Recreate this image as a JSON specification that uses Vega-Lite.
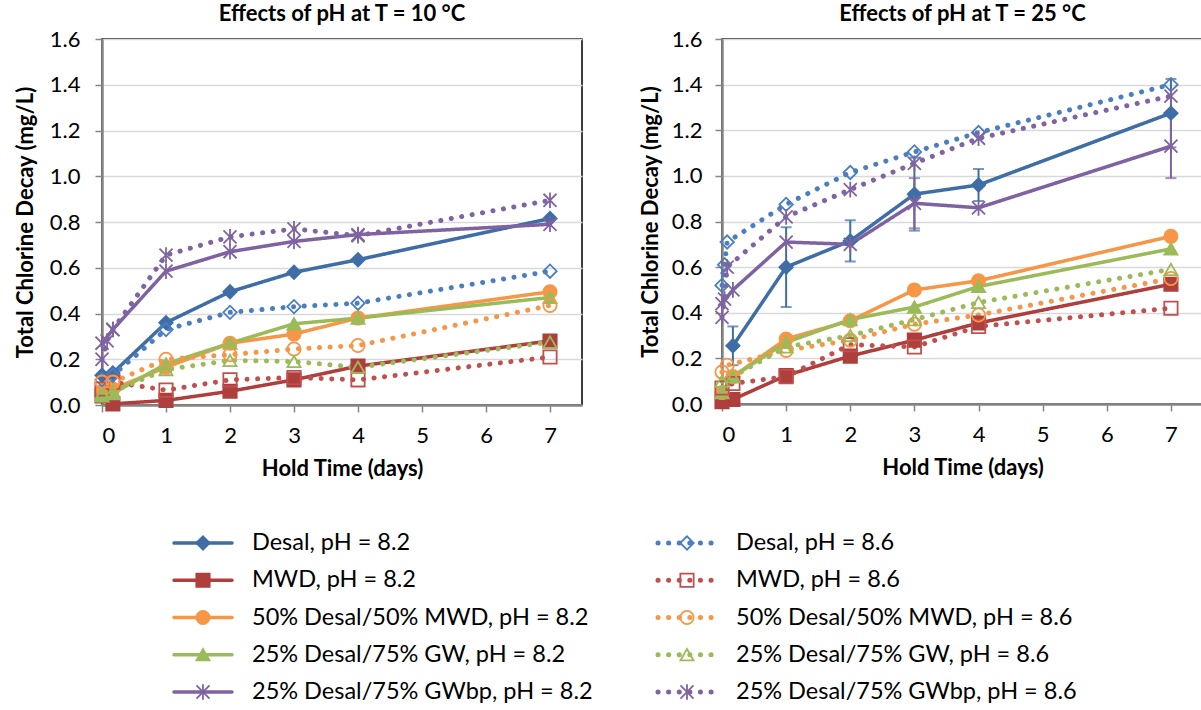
{
  "$schema": "https://vega.github.io/schema/vega-lite/v6.json",
  "background": "white",
  "padding": {"left": 13, "top": 2, "right": 0, "bottom": 0},
  "config": {
    "font": "Lato",
    "view": {"stroke": "black", "strokeWidth": 1.5},
    "axis": {
      "labelFont": "Lato", "labelFontSize": 22, "labelColor": "black",
      "titleFont": "Lato", "titleFontSize": 22, "titleFontWeight": "bold", "titleColor": "black",
      "domainColor": "#868686", "domainWidth": 2.5,
      "tickColor": "#868686", "tickWidth": 1.5, "tickSize": 7,
      "gridColor": "#D9D9D9", "gridWidth": 1.5
    },
    "title": {"font": "Lato", "fontSize": 22, "fontWeight": "bold", "color": "black", "anchor": "middle", "offset": 2},
    "concat": {"spacing": 50}
  },
  "datasets": {
    "pts": [
      {"panel": "10", "s": "Desal, pH = 8.2", "w": "Desal", "ph": "8.2", "day": 0, "v": 0.13},
      {"panel": "10", "s": "Desal, pH = 8.2", "w": "Desal", "ph": "8.2", "day": 0.17, "v": 0.14},
      {"panel": "10", "s": "Desal, pH = 8.2", "w": "Desal", "ph": "8.2", "day": 1, "v": 0.36},
      {"panel": "10", "s": "Desal, pH = 8.2", "w": "Desal", "ph": "8.2", "day": 2, "v": 0.495},
      {"panel": "10", "s": "Desal, pH = 8.2", "w": "Desal", "ph": "8.2", "day": 3, "v": 0.58},
      {"panel": "10", "s": "Desal, pH = 8.2", "w": "Desal", "ph": "8.2", "day": 4, "v": 0.635},
      {"panel": "10", "s": "Desal, pH = 8.2", "w": "Desal", "ph": "8.2", "day": 7, "v": 0.815},
      {"panel": "10", "s": "MWD, pH = 8.2", "w": "MWD", "ph": "8.2", "day": 0, "v": 0.04},
      {"panel": "10", "s": "MWD, pH = 8.2", "w": "MWD", "ph": "8.2", "day": 0.17, "v": 0.005},
      {"panel": "10", "s": "MWD, pH = 8.2", "w": "MWD", "ph": "8.2", "day": 1, "v": 0.02},
      {"panel": "10", "s": "MWD, pH = 8.2", "w": "MWD", "ph": "8.2", "day": 2, "v": 0.06},
      {"panel": "10", "s": "MWD, pH = 8.2", "w": "MWD", "ph": "8.2", "day": 3, "v": 0.11},
      {"panel": "10", "s": "MWD, pH = 8.2", "w": "MWD", "ph": "8.2", "day": 4, "v": 0.17},
      {"panel": "10", "s": "MWD, pH = 8.2", "w": "MWD", "ph": "8.2", "day": 7, "v": 0.28},
      {"panel": "10", "s": "50% Desal/50% MWD, pH = 8.2", "w": "50/50", "ph": "8.2", "day": 0, "v": 0.06},
      {"panel": "10", "s": "50% Desal/50% MWD, pH = 8.2", "w": "50/50", "ph": "8.2", "day": 0.17, "v": 0.07},
      {"panel": "10", "s": "50% Desal/50% MWD, pH = 8.2", "w": "50/50", "ph": "8.2", "day": 1, "v": 0.165},
      {"panel": "10", "s": "50% Desal/50% MWD, pH = 8.2", "w": "50/50", "ph": "8.2", "day": 2, "v": 0.27},
      {"panel": "10", "s": "50% Desal/50% MWD, pH = 8.2", "w": "50/50", "ph": "8.2", "day": 3, "v": 0.31},
      {"panel": "10", "s": "50% Desal/50% MWD, pH = 8.2", "w": "50/50", "ph": "8.2", "day": 4, "v": 0.38},
      {"panel": "10", "s": "50% Desal/50% MWD, pH = 8.2", "w": "50/50", "ph": "8.2", "day": 7, "v": 0.495},
      {"panel": "10", "s": "25% Desal/75% GW, pH = 8.2", "w": "GW", "ph": "8.2", "day": 0, "v": 0.04},
      {"panel": "10", "s": "25% Desal/75% GW, pH = 8.2", "w": "GW", "ph": "8.2", "day": 0.17, "v": 0.05},
      {"panel": "10", "s": "25% Desal/75% GW, pH = 8.2", "w": "GW", "ph": "8.2", "day": 1, "v": 0.18},
      {"panel": "10", "s": "25% Desal/75% GW, pH = 8.2", "w": "GW", "ph": "8.2", "day": 2, "v": 0.27},
      {"panel": "10", "s": "25% Desal/75% GW, pH = 8.2", "w": "GW", "ph": "8.2", "day": 3, "v": 0.355},
      {"panel": "10", "s": "25% Desal/75% GW, pH = 8.2", "w": "GW", "ph": "8.2", "day": 4, "v": 0.38},
      {"panel": "10", "s": "25% Desal/75% GW, pH = 8.2", "w": "GW", "ph": "8.2", "day": 7, "v": 0.47},
      {"panel": "10", "s": "25% Desal/75% GWbp, pH = 8.2", "w": "GWbp", "ph": "8.2", "day": 0, "v": 0.27},
      {"panel": "10", "s": "25% Desal/75% GWbp, pH = 8.2", "w": "GWbp", "ph": "8.2", "day": 0.17, "v": 0.33},
      {"panel": "10", "s": "25% Desal/75% GWbp, pH = 8.2", "w": "GWbp", "ph": "8.2", "day": 1, "v": 0.585},
      {"panel": "10", "s": "25% Desal/75% GWbp, pH = 8.2", "w": "GWbp", "ph": "8.2", "day": 2, "v": 0.67},
      {"panel": "10", "s": "25% Desal/75% GWbp, pH = 8.2", "w": "GWbp", "ph": "8.2", "day": 3, "v": 0.715},
      {"panel": "10", "s": "25% Desal/75% GWbp, pH = 8.2", "w": "GWbp", "ph": "8.2", "day": 4, "v": 0.745},
      {"panel": "10", "s": "25% Desal/75% GWbp, pH = 8.2", "w": "GWbp", "ph": "8.2", "day": 7, "v": 0.79},
      {"panel": "10", "s": "Desal, pH = 8.6", "w": "Desal", "ph": "8.6", "day": 0, "v": 0.11},
      {"panel": "10", "s": "Desal, pH = 8.6", "w": "Desal", "ph": "8.6", "day": 0.17, "v": 0.13},
      {"panel": "10", "s": "Desal, pH = 8.6", "w": "Desal", "ph": "8.6", "day": 1, "v": 0.33},
      {"panel": "10", "s": "Desal, pH = 8.6", "w": "Desal", "ph": "8.6", "day": 2, "v": 0.405},
      {"panel": "10", "s": "Desal, pH = 8.6", "w": "Desal", "ph": "8.6", "day": 3, "v": 0.43},
      {"panel": "10", "s": "Desal, pH = 8.6", "w": "Desal", "ph": "8.6", "day": 4, "v": 0.445},
      {"panel": "10", "s": "Desal, pH = 8.6", "w": "Desal", "ph": "8.6", "day": 7, "v": 0.585},
      {"panel": "10", "s": "MWD, pH = 8.6", "w": "MWD", "ph": "8.6", "day": 0, "v": 0.07},
      {"panel": "10", "s": "MWD, pH = 8.6", "w": "MWD", "ph": "8.6", "day": 0.17, "v": 0.1},
      {"panel": "10", "s": "MWD, pH = 8.6", "w": "MWD", "ph": "8.6", "day": 1, "v": 0.065},
      {"panel": "10", "s": "MWD, pH = 8.6", "w": "MWD", "ph": "8.6", "day": 2, "v": 0.11},
      {"panel": "10", "s": "MWD, pH = 8.6", "w": "MWD", "ph": "8.6", "day": 3, "v": 0.12},
      {"panel": "10", "s": "MWD, pH = 8.6", "w": "MWD", "ph": "8.6", "day": 4, "v": 0.11},
      {"panel": "10", "s": "MWD, pH = 8.6", "w": "MWD", "ph": "8.6", "day": 7, "v": 0.21},
      {"panel": "10", "s": "50% Desal/50% MWD, pH = 8.6", "w": "50/50", "ph": "8.6", "day": 0, "v": 0.1},
      {"panel": "10", "s": "50% Desal/50% MWD, pH = 8.6", "w": "50/50", "ph": "8.6", "day": 0.17, "v": 0.1},
      {"panel": "10", "s": "50% Desal/50% MWD, pH = 8.6", "w": "50/50", "ph": "8.6", "day": 1, "v": 0.2},
      {"panel": "10", "s": "50% Desal/50% MWD, pH = 8.6", "w": "50/50", "ph": "8.6", "day": 2, "v": 0.22},
      {"panel": "10", "s": "50% Desal/50% MWD, pH = 8.6", "w": "50/50", "ph": "8.6", "day": 3, "v": 0.245},
      {"panel": "10", "s": "50% Desal/50% MWD, pH = 8.6", "w": "50/50", "ph": "8.6", "day": 4, "v": 0.26},
      {"panel": "10", "s": "50% Desal/50% MWD, pH = 8.6", "w": "50/50", "ph": "8.6", "day": 7, "v": 0.435},
      {"panel": "10", "s": "25% Desal/75% GW, pH = 8.6", "w": "GW", "ph": "8.6", "day": 0, "v": 0.05},
      {"panel": "10", "s": "25% Desal/75% GW, pH = 8.6", "w": "GW", "ph": "8.6", "day": 0.17, "v": 0.06},
      {"panel": "10", "s": "25% Desal/75% GW, pH = 8.6", "w": "GW", "ph": "8.6", "day": 1, "v": 0.155},
      {"panel": "10", "s": "25% Desal/75% GW, pH = 8.6", "w": "GW", "ph": "8.6", "day": 2, "v": 0.195},
      {"panel": "10", "s": "25% Desal/75% GW, pH = 8.6", "w": "GW", "ph": "8.6", "day": 3, "v": 0.19},
      {"panel": "10", "s": "25% Desal/75% GW, pH = 8.6", "w": "GW", "ph": "8.6", "day": 4, "v": 0.165},
      {"panel": "10", "s": "25% Desal/75% GW, pH = 8.6", "w": "GW", "ph": "8.6", "day": 7, "v": 0.275},
      {"panel": "10", "s": "25% Desal/75% GWbp, pH = 8.6", "w": "GWbp", "ph": "8.6", "day": 0, "v": 0.2},
      {"panel": "10", "s": "25% Desal/75% GWbp, pH = 8.6", "w": "GWbp", "ph": "8.6", "day": 0.08, "v": 0.28},
      {"panel": "10", "s": "25% Desal/75% GWbp, pH = 8.6", "w": "GWbp", "ph": "8.6", "day": 0.17, "v": 0.33},
      {"panel": "10", "s": "25% Desal/75% GWbp, pH = 8.6", "w": "GWbp", "ph": "8.6", "day": 1, "v": 0.655},
      {"panel": "10", "s": "25% Desal/75% GWbp, pH = 8.6", "w": "GWbp", "ph": "8.6", "day": 2, "v": 0.735},
      {"panel": "10", "s": "25% Desal/75% GWbp, pH = 8.6", "w": "GWbp", "ph": "8.6", "day": 3, "v": 0.77},
      {"panel": "10", "s": "25% Desal/75% GWbp, pH = 8.6", "w": "GWbp", "ph": "8.6", "day": 4, "v": 0.74},
      {"panel": "10", "s": "25% Desal/75% GWbp, pH = 8.6", "w": "GWbp", "ph": "8.6", "day": 7, "v": 0.895},

      {"panel": "25", "s": "Desal, pH = 8.2", "w": "Desal", "ph": "8.2", "day": 0.17, "v": 0.255, "lo": 0.17, "hi": 0.34},
      {"panel": "25", "s": "Desal, pH = 8.2", "w": "Desal", "ph": "8.2", "day": 1, "v": 0.6, "lo": 0.425, "hi": 0.775},
      {"panel": "25", "s": "Desal, pH = 8.2", "w": "Desal", "ph": "8.2", "day": 2, "v": 0.715, "lo": 0.625, "hi": 0.805},
      {"panel": "25", "s": "Desal, pH = 8.2", "w": "Desal", "ph": "8.2", "day": 3, "v": 0.92, "lo": 0.76, "hi": 1.08},
      {"panel": "25", "s": "Desal, pH = 8.2", "w": "Desal", "ph": "8.2", "day": 4, "v": 0.96, "lo": 0.89, "hi": 1.03},
      {"panel": "25", "s": "Desal, pH = 8.2", "w": "Desal", "ph": "8.2", "day": 7, "v": 1.275, "lo": 1.125, "hi": 1.425},
      {"panel": "25", "s": "MWD, pH = 8.2", "w": "MWD", "ph": "8.2", "day": 0, "v": 0.01},
      {"panel": "25", "s": "MWD, pH = 8.2", "w": "MWD", "ph": "8.2", "day": 0.17, "v": 0.02},
      {"panel": "25", "s": "MWD, pH = 8.2", "w": "MWD", "ph": "8.2", "day": 1, "v": 0.125},
      {"panel": "25", "s": "MWD, pH = 8.2", "w": "MWD", "ph": "8.2", "day": 2, "v": 0.21},
      {"panel": "25", "s": "MWD, pH = 8.2", "w": "MWD", "ph": "8.2", "day": 3, "v": 0.28},
      {"panel": "25", "s": "MWD, pH = 8.2", "w": "MWD", "ph": "8.2", "day": 4, "v": 0.355},
      {"panel": "25", "s": "MWD, pH = 8.2", "w": "MWD", "ph": "8.2", "day": 7, "v": 0.525},
      {"panel": "25", "s": "50% Desal/50% MWD, pH = 8.2", "w": "50/50", "ph": "8.2", "day": 0, "v": 0.05},
      {"panel": "25", "s": "50% Desal/50% MWD, pH = 8.2", "w": "50/50", "ph": "8.2", "day": 0.17, "v": 0.12},
      {"panel": "25", "s": "50% Desal/50% MWD, pH = 8.2", "w": "50/50", "ph": "8.2", "day": 1, "v": 0.285},
      {"panel": "25", "s": "50% Desal/50% MWD, pH = 8.2", "w": "50/50", "ph": "8.2", "day": 2, "v": 0.365},
      {"panel": "25", "s": "50% Desal/50% MWD, pH = 8.2", "w": "50/50", "ph": "8.2", "day": 3, "v": 0.5},
      {"panel": "25", "s": "50% Desal/50% MWD, pH = 8.2", "w": "50/50", "ph": "8.2", "day": 4, "v": 0.54},
      {"panel": "25", "s": "50% Desal/50% MWD, pH = 8.2", "w": "50/50", "ph": "8.2", "day": 7, "v": 0.735},
      {"panel": "25", "s": "25% Desal/75% GW, pH = 8.2", "w": "GW", "ph": "8.2", "day": 0, "v": 0.05},
      {"panel": "25", "s": "25% Desal/75% GW, pH = 8.2", "w": "GW", "ph": "8.2", "day": 0.17, "v": 0.12},
      {"panel": "25", "s": "25% Desal/75% GW, pH = 8.2", "w": "GW", "ph": "8.2", "day": 1, "v": 0.27},
      {"panel": "25", "s": "25% Desal/75% GW, pH = 8.2", "w": "GW", "ph": "8.2", "day": 2, "v": 0.37},
      {"panel": "25", "s": "25% Desal/75% GW, pH = 8.2", "w": "GW", "ph": "8.2", "day": 3, "v": 0.425},
      {"panel": "25", "s": "25% Desal/75% GW, pH = 8.2", "w": "GW", "ph": "8.2", "day": 4, "v": 0.515},
      {"panel": "25", "s": "25% Desal/75% GW, pH = 8.2", "w": "GW", "ph": "8.2", "day": 7, "v": 0.68},
      {"panel": "25", "s": "25% Desal/75% GWbp, pH = 8.2", "w": "GWbp", "ph": "8.2", "day": 0, "v": 0.44},
      {"panel": "25", "s": "25% Desal/75% GWbp, pH = 8.2", "w": "GWbp", "ph": "8.2", "day": 0.17, "v": 0.5},
      {"panel": "25", "s": "25% Desal/75% GWbp, pH = 8.2", "w": "GWbp", "ph": "8.2", "day": 1, "v": 0.71},
      {"panel": "25", "s": "25% Desal/75% GWbp, pH = 8.2", "w": "GWbp", "ph": "8.2", "day": 2, "v": 0.7},
      {"panel": "25", "s": "25% Desal/75% GWbp, pH = 8.2", "w": "GWbp", "ph": "8.2", "day": 3, "v": 0.88, "lo": 0.77, "hi": 0.99},
      {"panel": "25", "s": "25% Desal/75% GWbp, pH = 8.2", "w": "GWbp", "ph": "8.2", "day": 4, "v": 0.86},
      {"panel": "25", "s": "25% Desal/75% GWbp, pH = 8.2", "w": "GWbp", "ph": "8.2", "day": 7, "v": 1.13, "lo": 0.99, "hi": 1.27},
      {"panel": "25", "s": "Desal, pH = 8.6", "w": "Desal", "ph": "8.6", "day": 0, "v": 0.52},
      {"panel": "25", "s": "Desal, pH = 8.6", "w": "Desal", "ph": "8.6", "day": 0.04, "v": 0.61},
      {"panel": "25", "s": "Desal, pH = 8.6", "w": "Desal", "ph": "8.6", "day": 0.08, "v": 0.71},
      {"panel": "25", "s": "Desal, pH = 8.6", "w": "Desal", "ph": "8.6", "day": 1, "v": 0.875},
      {"panel": "25", "s": "Desal, pH = 8.6", "w": "Desal", "ph": "8.6", "day": 2, "v": 1.015},
      {"panel": "25", "s": "Desal, pH = 8.6", "w": "Desal", "ph": "8.6", "day": 3, "v": 1.105},
      {"panel": "25", "s": "Desal, pH = 8.6", "w": "Desal", "ph": "8.6", "day": 4, "v": 1.19},
      {"panel": "25", "s": "Desal, pH = 8.6", "w": "Desal", "ph": "8.6", "day": 7, "v": 1.4},
      {"panel": "25", "s": "MWD, pH = 8.6", "w": "MWD", "ph": "8.6", "day": 0, "v": 0.07},
      {"panel": "25", "s": "MWD, pH = 8.6", "w": "MWD", "ph": "8.6", "day": 0.17, "v": 0.09},
      {"panel": "25", "s": "MWD, pH = 8.6", "w": "MWD", "ph": "8.6", "day": 1, "v": 0.12},
      {"panel": "25", "s": "MWD, pH = 8.6", "w": "MWD", "ph": "8.6", "day": 2, "v": 0.26},
      {"panel": "25", "s": "MWD, pH = 8.6", "w": "MWD", "ph": "8.6", "day": 3, "v": 0.25},
      {"panel": "25", "s": "MWD, pH = 8.6", "w": "MWD", "ph": "8.6", "day": 4, "v": 0.34},
      {"panel": "25", "s": "MWD, pH = 8.6", "w": "MWD", "ph": "8.6", "day": 7, "v": 0.42},
      {"panel": "25", "s": "50% Desal/50% MWD, pH = 8.6", "w": "50/50", "ph": "8.6", "day": 0, "v": 0.14},
      {"panel": "25", "s": "50% Desal/50% MWD, pH = 8.6", "w": "50/50", "ph": "8.6", "day": 0.08, "v": 0.17},
      {"panel": "25", "s": "50% Desal/50% MWD, pH = 8.6", "w": "50/50", "ph": "8.6", "day": 1, "v": 0.235},
      {"panel": "25", "s": "50% Desal/50% MWD, pH = 8.6", "w": "50/50", "ph": "8.6", "day": 2, "v": 0.28},
      {"panel": "25", "s": "50% Desal/50% MWD, pH = 8.6", "w": "50/50", "ph": "8.6", "day": 3, "v": 0.35},
      {"panel": "25", "s": "50% Desal/50% MWD, pH = 8.6", "w": "50/50", "ph": "8.6", "day": 4, "v": 0.39},
      {"panel": "25", "s": "50% Desal/50% MWD, pH = 8.6", "w": "50/50", "ph": "8.6", "day": 7, "v": 0.55},
      {"panel": "25", "s": "25% Desal/75% GW, pH = 8.6", "w": "GW", "ph": "8.6", "day": 0, "v": 0.1},
      {"panel": "25", "s": "25% Desal/75% GW, pH = 8.6", "w": "GW", "ph": "8.6", "day": 0.17, "v": 0.12},
      {"panel": "25", "s": "25% Desal/75% GW, pH = 8.6", "w": "GW", "ph": "8.6", "day": 1, "v": 0.25},
      {"panel": "25", "s": "25% Desal/75% GW, pH = 8.6", "w": "GW", "ph": "8.6", "day": 2, "v": 0.3},
      {"panel": "25", "s": "25% Desal/75% GW, pH = 8.6", "w": "GW", "ph": "8.6", "day": 3, "v": 0.37},
      {"panel": "25", "s": "25% Desal/75% GW, pH = 8.6", "w": "GW", "ph": "8.6", "day": 4, "v": 0.445},
      {"panel": "25", "s": "25% Desal/75% GW, pH = 8.6", "w": "GW", "ph": "8.6", "day": 7, "v": 0.59},
      {"panel": "25", "s": "25% Desal/75% GWbp, pH = 8.6", "w": "GWbp", "ph": "8.6", "day": 0, "v": 0.38},
      {"panel": "25", "s": "25% Desal/75% GWbp, pH = 8.6", "w": "GWbp", "ph": "8.6", "day": 0.04, "v": 0.46},
      {"panel": "25", "s": "25% Desal/75% GWbp, pH = 8.6", "w": "GWbp", "ph": "8.6", "day": 0.08, "v": 0.6},
      {"panel": "25", "s": "25% Desal/75% GWbp, pH = 8.6", "w": "GWbp", "ph": "8.6", "day": 1, "v": 0.82},
      {"panel": "25", "s": "25% Desal/75% GWbp, pH = 8.6", "w": "GWbp", "ph": "8.6", "day": 2, "v": 0.94},
      {"panel": "25", "s": "25% Desal/75% GWbp, pH = 8.6", "w": "GWbp", "ph": "8.6", "day": 3, "v": 1.055},
      {"panel": "25", "s": "25% Desal/75% GWbp, pH = 8.6", "w": "GWbp", "ph": "8.6", "day": 4, "v": 1.165},
      {"panel": "25", "s": "25% Desal/75% GWbp, pH = 8.6", "w": "GWbp", "ph": "8.6", "day": 7, "v": 1.35}
    ],
    "leg": [
      {"s": "Desal, pH = 8.2", "w": "Desal", "ph": "8.2"},
      {"s": "MWD, pH = 8.2", "w": "MWD", "ph": "8.2"},
      {"s": "50% Desal/50% MWD, pH = 8.2", "w": "50/50", "ph": "8.2"},
      {"s": "25% Desal/75% GW, pH = 8.2", "w": "GW", "ph": "8.2"},
      {"s": "25% Desal/75% GWbp, pH = 8.2", "w": "GWbp", "ph": "8.2"},
      {"s": "Desal, pH = 8.6", "w": "Desal", "ph": "8.6"},
      {"s": "MWD, pH = 8.6", "w": "MWD", "ph": "8.6"},
      {"s": "50% Desal/50% MWD, pH = 8.6", "w": "50/50", "ph": "8.6"},
      {"s": "25% Desal/75% GW, pH = 8.6", "w": "GW", "ph": "8.6"},
      {"s": "25% Desal/75% GWbp, pH = 8.6", "w": "GWbp", "ph": "8.6"}
    ]
  },
  "vconcat": [
    {
      "spacing": 55,
      "hconcat": [
        {
          "title": "Effects of pH at T = 10 °C",
          "width": 480, "height": 366,
          "data": {"name": "pts"},
          "transform": [{"filter": "datum.panel == '10'"}],
          "encoding": {
            "x": {"field": "day", "type": "quantitative", "scale": {"domain": [0, 7.5], "nice": false},
                  "axis": {"values": [0,1,2,3,4,5,6,7], "grid": false, "title": "Hold Time (days)", "labelPadding": 13, "titlePadding": 12}},
            "y": {"field": "v", "type": "quantitative", "scale": {"domain": [0, 1.6], "nice": false},
                  "axis": {"values": [0,0.2,0.4,0.6,0.8,1,1.2,1.4,1.6], "format": ".1f", "grid": true, "title": "Total Chlorine Decay (mg/L)", "labelPadding": 15, "titlePadding": 12}}
          },
          "layer": [
            {"mark": {"type": "line", "strokeCap": "round", "strokeJoin": "round"},
             "encoding": {
               "color": {"field": "s", "type": "nominal", "legend": null, "scale": {"domain": ["Desal, pH = 8.2","MWD, pH = 8.2","50% Desal/50% MWD, pH = 8.2","25% Desal/75% GW, pH = 8.2","25% Desal/75% GWbp, pH = 8.2","Desal, pH = 8.6","MWD, pH = 8.6","50% Desal/50% MWD, pH = 8.6","25% Desal/75% GW, pH = 8.6","25% Desal/75% GWbp, pH = 8.6"], "range": ["#3F6EA7","#AE3F3C","#F79646","#9BBB59","#7F62A1","#4A7EBF","#C0504D","#F79646","#9BBB59","#8064A2"]}},
               "strokeDash": {"field": "ph", "type": "nominal", "legend": null, "scale": {"domain": ["8.2","8.6"], "range": [[1,0],[0.1,10.5]]}},
               "strokeWidth": {"field": "ph", "type": "nominal", "legend": null, "scale": {"domain": ["8.2","8.6"], "range": [3.5,5]}}
             }},
            {"transform": [{"filter": "datum.ph == '8.2'"}],
             "mark": {"type": "point", "filled": true, "strokeWidth": 1.8, "opacity": 1},
             "encoding": {
               "color": {"field": "s", "type": "nominal", "legend": null},
               "stroke": {"field": "s", "type": "nominal", "legend": null, "scale": {"domain": ["Desal, pH = 8.2","MWD, pH = 8.2","50% Desal/50% MWD, pH = 8.2","25% Desal/75% GW, pH = 8.2","25% Desal/75% GWbp, pH = 8.2","Desal, pH = 8.6","MWD, pH = 8.6","50% Desal/50% MWD, pH = 8.6","25% Desal/75% GW, pH = 8.6","25% Desal/75% GWbp, pH = 8.6"], "range": ["#3F6EA7","#AE3F3C","#F79646","#9BBB59","#7F62A1","#4A7EBF","#C0504D","#F79646","#9BBB59","#8064A2"]}},
               "shape": {"field": "w", "type": "nominal", "legend": null, "scale": {"domain": ["Desal","MWD","50/50","GW","GWbp"], "range": ["diamond","square","circle","triangle-up","M-1,-1L1,1M-1,1L1,-1M0,-1.2L0,1.2"]}},
               "size": {"field": "w", "type": "nominal", "legend": null, "scale": {"domain": ["Desal","MWD","50/50","GW","GWbp"], "range": [180,170,220,190,300]}}
             }},
            {"transform": [{"filter": "datum.ph == '8.6'"}],
             "mark": {"type": "point", "filled": false, "strokeWidth": 1.8, "opacity": 1},
             "encoding": {
               "color": {"field": "s", "type": "nominal", "legend": null},
               "shape": {"field": "w", "type": "nominal", "legend": null},
               "size": {"field": "w", "type": "nominal", "legend": null}
             }}
          ]
        },
        {
          "title": "Effects of pH at T = 25 °C",
          "width": 481, "height": 365,
          "data": {"name": "pts"},
          "transform": [{"filter": "datum.panel == '25'"}],
          "encoding": {
            "x": {"field": "day", "type": "quantitative", "scale": {"domain": [0, 7.5], "nice": false},
                  "axis": {"values": [0,1,2,3,4,5,6,7], "grid": false, "title": "Hold Time (days)", "labelPadding": 13, "titlePadding": 12}},
            "y": {"field": "v", "type": "quantitative", "scale": {"domain": [0, 1.6], "nice": false},
                  "axis": {"values": [0,0.2,0.4,0.6,0.8,1,1.2,1.4,1.6], "format": ".1f", "grid": true, "title": "Total Chlorine Decay (mg/L)", "labelPadding": 13, "titlePadding": 9}}
          },
          "layer": [
            {"transform": [{"filter": "isValid(datum.lo)"}],
             "mark": {"type": "rule", "strokeWidth": 2},
             "encoding": {
               "y": {"field": "lo", "type": "quantitative"},
               "y2": {"field": "hi"},
               "color": {"field": "s", "type": "nominal", "legend": null}
             }},
            {"transform": [{"filter": "isValid(datum.lo)"}],
             "mark": {"type": "tick", "orient": "horizontal", "size": 11, "thickness": 2},
             "encoding": {
               "y": {"field": "lo", "type": "quantitative"},
               "color": {"field": "s", "type": "nominal", "legend": null}
             }},
            {"transform": [{"filter": "isValid(datum.hi)"}],
             "mark": {"type": "tick", "orient": "horizontal", "size": 11, "thickness": 2},
             "encoding": {
               "y": {"field": "hi", "type": "quantitative"},
               "color": {"field": "s", "type": "nominal", "legend": null}
             }},
            {"mark": {"type": "line", "strokeCap": "round", "strokeJoin": "round"},
             "encoding": {
               "color": {"field": "s", "type": "nominal", "legend": null, "scale": {"domain": ["Desal, pH = 8.2","MWD, pH = 8.2","50% Desal/50% MWD, pH = 8.2","25% Desal/75% GW, pH = 8.2","25% Desal/75% GWbp, pH = 8.2","Desal, pH = 8.6","MWD, pH = 8.6","50% Desal/50% MWD, pH = 8.6","25% Desal/75% GW, pH = 8.6","25% Desal/75% GWbp, pH = 8.6"], "range": ["#3F6EA7","#AE3F3C","#F79646","#9BBB59","#7F62A1","#4A7EBF","#C0504D","#F79646","#9BBB59","#8064A2"]}},
               "strokeDash": {"field": "ph", "type": "nominal", "legend": null, "scale": {"domain": ["8.2","8.6"], "range": [[1,0],[0.1,10.5]]}},
               "strokeWidth": {"field": "ph", "type": "nominal", "legend": null, "scale": {"domain": ["8.2","8.6"], "range": [3.5,5]}}
             }},
            {"transform": [{"filter": "datum.ph == '8.2'"}],
             "mark": {"type": "point", "filled": true, "strokeWidth": 1.8, "opacity": 1},
             "encoding": {
               "color": {"field": "s", "type": "nominal", "legend": null},
               "stroke": {"field": "s", "type": "nominal", "legend": null, "scale": {"domain": ["Desal, pH = 8.2","MWD, pH = 8.2","50% Desal/50% MWD, pH = 8.2","25% Desal/75% GW, pH = 8.2","25% Desal/75% GWbp, pH = 8.2","Desal, pH = 8.6","MWD, pH = 8.6","50% Desal/50% MWD, pH = 8.6","25% Desal/75% GW, pH = 8.6","25% Desal/75% GWbp, pH = 8.6"], "range": ["#3F6EA7","#AE3F3C","#F79646","#9BBB59","#7F62A1","#4A7EBF","#C0504D","#F79646","#9BBB59","#8064A2"]}},
               "shape": {"field": "w", "type": "nominal", "legend": null, "scale": {"domain": ["Desal","MWD","50/50","GW","GWbp"], "range": ["diamond","square","circle","triangle-up","M-1,-1L1,1M-1,1L1,-1M0,-1.2L0,1.2"]}},
               "size": {"field": "w", "type": "nominal", "legend": null, "scale": {"domain": ["Desal","MWD","50/50","GW","GWbp"], "range": [180,170,220,190,300]}}
             }},
            {"transform": [{"filter": "datum.ph == '8.6'"}],
             "mark": {"type": "point", "filled": false, "strokeWidth": 1.8, "opacity": 1},
             "encoding": {
               "color": {"field": "s", "type": "nominal", "legend": null},
               "shape": {"field": "w", "type": "nominal", "legend": null},
               "size": {"field": "w", "type": "nominal", "legend": null}
             }}
          ]
        }
      ]
    },
    {
      "width": 1090, "height": 149,
      "view": {"stroke": null},
      "data": {"name": "leg"},
      "encoding": {
        "x": {"field": "ph", "type": "nominal", "axis": null, "scale": {"type": "point", "padding": 0, "domain": ["8.2","8.6"], "range": [101, 585]}},
        "y": {"field": "w", "type": "nominal", "axis": null, "scale": {"type": "point", "padding": 0, "domain": ["Desal","MWD","50/50","GW","GWbp"], "range": [0, 149]}}
      },
      "layer": [
        {"mark": {"type": "rule", "xOffset": -29, "x2Offset": 29, "strokeCap": "round"},
         "encoding": {
           "x2": {"field": "ph"},
           "color": {"field": "s", "type": "nominal", "legend": null, "scale": {"domain": ["Desal, pH = 8.2","MWD, pH = 8.2","50% Desal/50% MWD, pH = 8.2","25% Desal/75% GW, pH = 8.2","25% Desal/75% GWbp, pH = 8.2","Desal, pH = 8.6","MWD, pH = 8.6","50% Desal/50% MWD, pH = 8.6","25% Desal/75% GW, pH = 8.6","25% Desal/75% GWbp, pH = 8.6"], "range": ["#3F6EA7","#AE3F3C","#F79646","#9BBB59","#7F62A1","#4A7EBF","#C0504D","#F79646","#9BBB59","#8064A2"]}},
           "strokeDash": {"field": "ph", "type": "nominal", "legend": null, "scale": {"domain": ["8.2","8.6"], "range": [[1,0],[0.1,9]]}},
           "strokeWidth": {"field": "ph", "type": "nominal", "legend": null, "scale": {"domain": ["8.2","8.6"], "range": [5,4.5]}}
         }},
        {"transform": [{"filter": "datum.ph == '8.2'"}],
         "mark": {"type": "point", "filled": true, "strokeWidth": 1.8, "opacity": 1},
         "encoding": {
           "color": {"field": "s", "type": "nominal", "legend": null},
           "stroke": {"field": "s", "type": "nominal", "legend": null, "scale": {"domain": ["Desal, pH = 8.2","MWD, pH = 8.2","50% Desal/50% MWD, pH = 8.2","25% Desal/75% GW, pH = 8.2","25% Desal/75% GWbp, pH = 8.2","Desal, pH = 8.6","MWD, pH = 8.6","50% Desal/50% MWD, pH = 8.6","25% Desal/75% GW, pH = 8.6","25% Desal/75% GWbp, pH = 8.6"], "range": ["#3F6EA7","#AE3F3C","#F79646","#9BBB59","#7F62A1","#4A7EBF","#C0504D","#F79646","#9BBB59","#8064A2"]}},
           "shape": {"field": "w", "type": "nominal", "legend": null, "scale": {"domain": ["Desal","MWD","50/50","GW","GWbp"], "range": ["diamond","square","circle","triangle-up","M-1,-1L1,1M-1,1L1,-1M0,-1.2L0,1.2"]}},
           "size": {"field": "w", "type": "nominal", "legend": null, "scale": {"domain": ["Desal","MWD","50/50","GW","GWbp"], "range": [150,170,170,170,200]}}
         }},
        {"transform": [{"filter": "datum.ph == '8.6'"}],
         "mark": {"type": "point", "filled": false, "strokeWidth": 1.8, "opacity": 1},
         "encoding": {
           "color": {"field": "s", "type": "nominal", "legend": null},
           "shape": {"field": "w", "type": "nominal", "legend": null},
           "size": {"field": "w", "type": "nominal", "legend": null}
         }},
        {"mark": {"type": "text", "align": "left", "baseline": "middle", "dx": 49, "font": "Lato", "fontSize": 23.5, "color": "black"},
         "encoding": {"text": {"field": "s"}}}
      ]
    }
  ],
  "spacing": 51
}
